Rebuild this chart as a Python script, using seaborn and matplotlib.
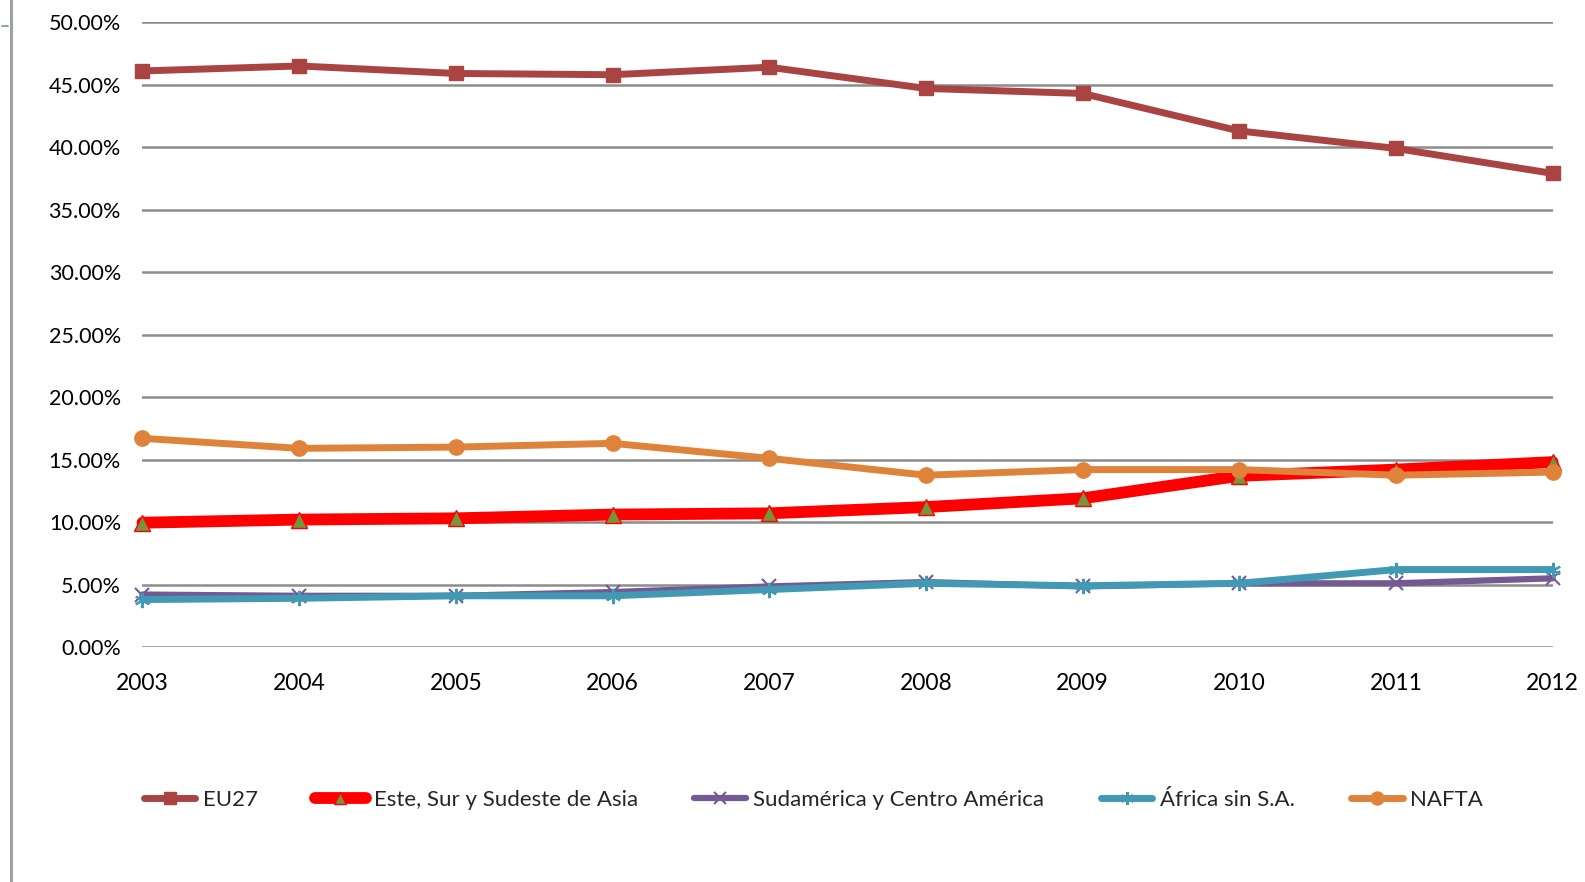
import matplotlib
matplotlib.use("Agg")
import matplotlib.pyplot as plt
import seaborn as sns
import pandas as pd
from matplotlib.lines import Line2D
from matplotlib.ticker import FuncFormatter

years = [2003, 2004, 2005, 2006, 2007, 2008, 2009, 2010, 2011, 2012]
eu27 = [46.1, 46.5, 45.9, 45.8, 46.4, 44.7, 44.3, 41.3, 39.9, 37.9]
asia = [9.95, 10.2, 10.3, 10.6, 10.7, 11.2, 11.9, 13.7, 14.2, 14.8]
sudam = [4.2, 4.1, 4.1, 4.4, 4.85, 5.2, 4.85, 5.1, 5.1, 5.5]
africa = [3.8, 3.9, 4.1, 4.1, 4.6, 5.1, 4.9, 5.1, 6.2, 6.2]
nafta = [16.7, 15.9, 16.0, 16.3, 15.1, 13.75, 14.2, 14.2, 13.75, 14.0]
series_names = ["EU27", "Este, Sur y Sudeste de Asia", "Sudamérica y Centro América",
                "África sin S.A.", "NAFTA"]
yticks = [0, 5, 10, 15, 20, 25, 30, 35, 40, 45, 50]

sns.set_theme(style="white")
plt.rcParams['font.family'] = ['Lato', 'DejaVu Sans']

fig = plt.figure(figsize=(15.85, 8.82), dpi=100)
ax = fig.add_axes([0.0899, 0.2664, 0.9796 - 0.0899, 0.9748 - 0.2664])

styles = [
    dict(color="#A94442", lw=5, marker="s", ms=10, mfc="#A94442", mec="#A94442"),
    dict(color="#FF0000", lw=8.5, marker="^", ms=11, mfc="#77933C", mec="#FF0000", mew=1.0),
    dict(color="#735A93", lw=4.5, marker="x", ms=10, mfc="#735A93", mec="#735A93", mew=1.5),
    dict(color="#4199B4", lw=5, marker=(6, 2, 0), ms=11, mfc="#4199B4", mec="#4199B4", mew=1.5),
    dict(color="#DF823A", lw=5, marker="o", ms=11, mfc="#DF823A", mec="#DF823A"),
]
data = [eu27, asia, sudam, africa, nafta]

for t in yticks:
    ax.axhline(t, color="#8C8C8C", lw=1.8, zorder=1)

handles = []
for name, vals, st in zip(series_names, data, styles):
    df = pd.DataFrame({"year": years, "value": vals})
    sns.lineplot(data=df, x="year", y="value", ax=ax, color=st["color"], lw=st["lw"],
                 marker=st["marker"], markersize=st["ms"], markerfacecolor=st["mfc"],
                 markeredgecolor=st["mec"], markeredgewidth=st.get("mew", 1),
                 clip_on=False, zorder=3, solid_capstyle="round")
    handles.append(Line2D([0], [0], color=st["color"], lw=st["lw"], marker=st["marker"],
                          markersize=st["ms"] * 0.85, markerfacecolor=st["mfc"],
                          markeredgecolor=st["mec"], markeredgewidth=st.get("mew", 1),
                          solid_capstyle="round"))

ax.set_xlim(2003, 2012)
ax.set_ylim(0, 50)
ax.set_xticks(years)
ax.set_xticklabels([str(y) for y in years])
ax.set_yticks(yticks)
ax.yaxis.set_major_formatter(FuncFormatter(lambda v, p: f"{v:.2f}%"))
ax.set_xlabel("")
ax.set_ylabel("")
ax.tick_params(axis="x", length=0, pad=19, labelsize=16.5, colors="black")
ax.tick_params(axis="y", length=0, pad=15.5, labelsize=15.5, colors="black")
for s in ax.spines.values():
    s.set_visible(False)

leg = fig.legend(handles, series_names, loc="center left", bbox_to_anchor=(0.091, 0.093),
                 ncol=5, frameon=False, fontsize=16, handlelength=2.3, handletextpad=0.35,
                 columnspacing=2.55, borderaxespad=0, borderpad=0)

fig.add_artist(Line2D([0.0068, 0.0068], [0.0, 1.0], transform=fig.transFigure,
                      color="#A0A0A0", lw=2.2))
fig.add_artist(Line2D([0.0015, 0.005], [0.97, 0.97], transform=fig.transFigure,
                      color="#6A9AA0", lw=1.2))

fig.savefig("out.png", dpi=100)
